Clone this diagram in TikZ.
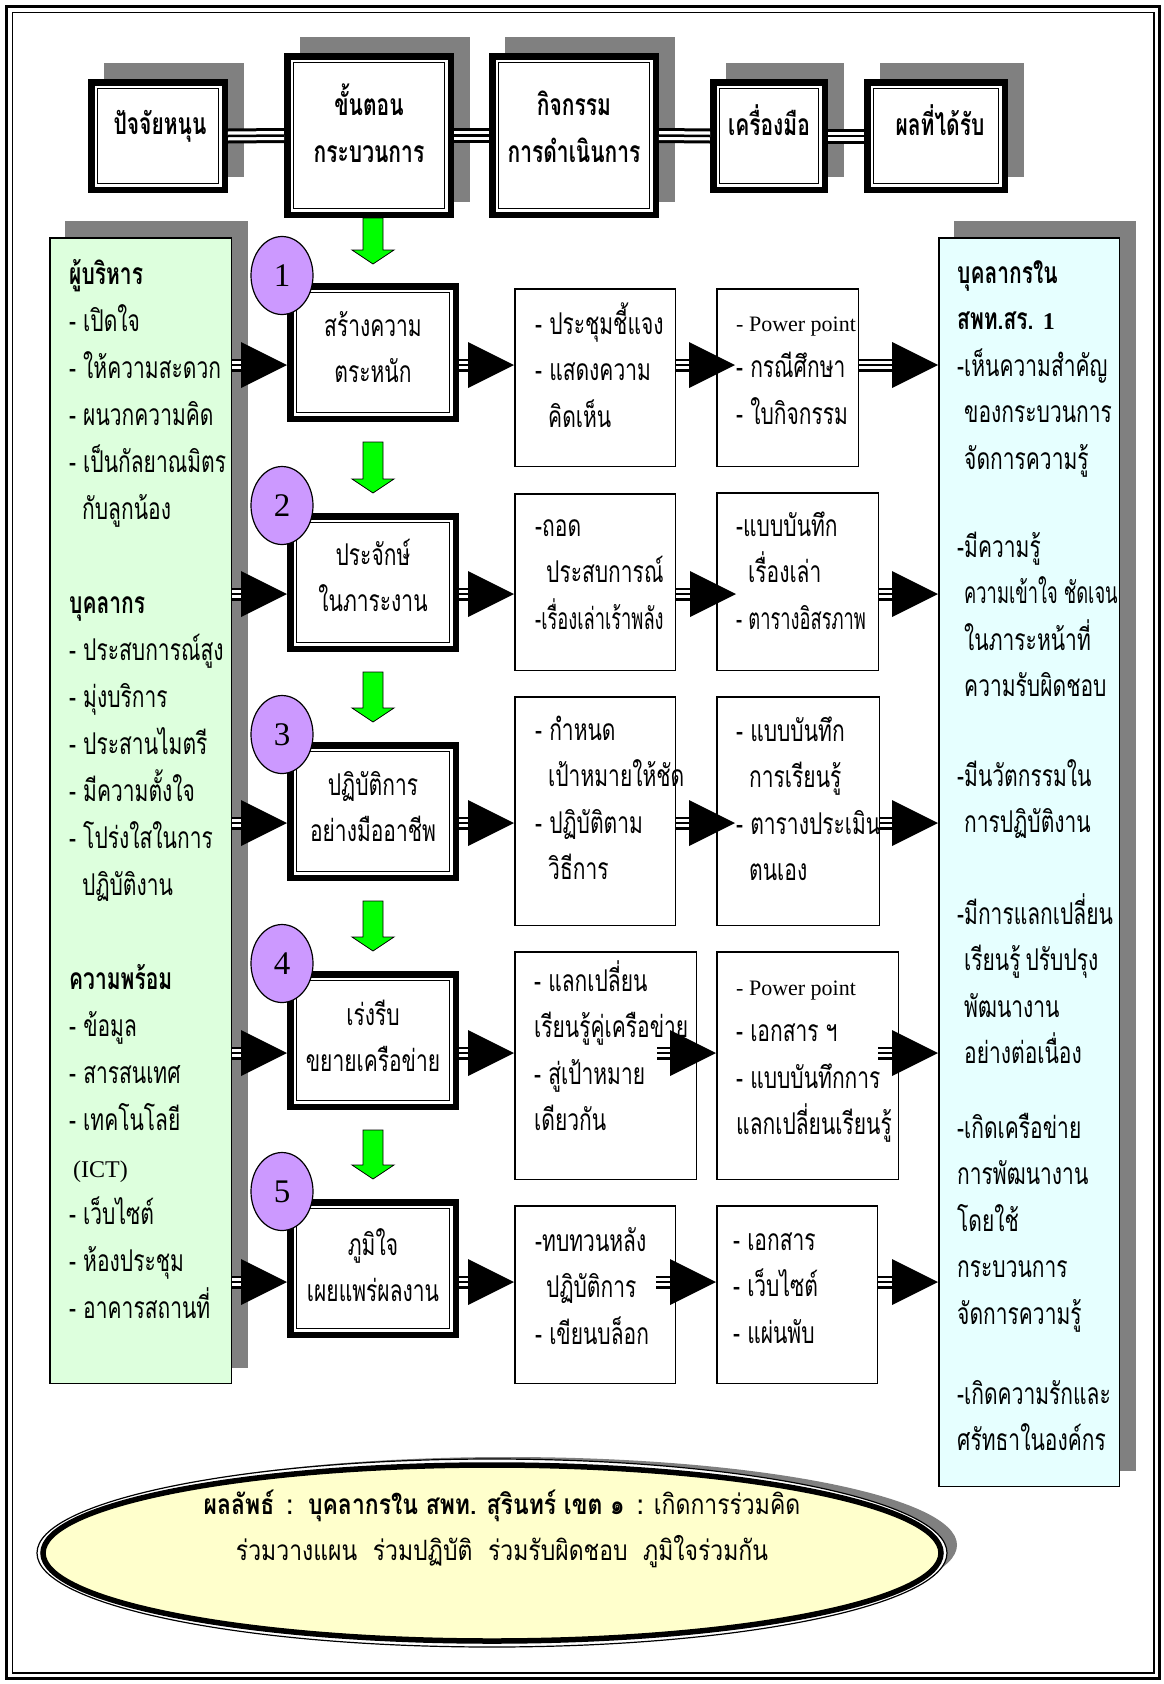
\documentclass[tikz,border=0pt]{standalone}
\usepackage{fontspec}
\setmainfont{Liberation Serif}
\newfontfamily\thai[Script=Thai,FakeStretch=0.70]{Loma}
\newfontfamily\thainarrow[Script=Thai,FakeStretch=0.61]{Loma}
\newfontfamily\thaiwide[Script=Thai,FakeStretch=0.82]{Loma}
\newfontfamily\lser{Liberation Serif}
\usetikzlibrary{calc,backgrounds,shapes.geometric}

\definecolor{shadowgrey}{HTML}{808080}
\definecolor{leafgreen}{HTML}{DDFFDD}
\definecolor{icecyan}{HTML}{E6FFFF}
\definecolor{lilac}{HTML}{CC99FF}
\definecolor{lime}{HTML}{00FF00}
\definecolor{cream}{HTML}{FFFFCC}

\newcommand\thsize{\fontsize{30}{46.5}\selectfont}
\newcommand\latsize{\fontsize{22}{46.5}\selectfont}
\newcommand\firstrow{\rule{0pt}{36pt}}
\newcommand\lat[1]{{\lser\latsize #1}}

% block arrow: triple-line shaft and a solid triangular head
\newcommand\flowto[4]{%
  \path (#1) ++(#3,0) coordinate (fs) (#2) ++(#4,0) coordinate (ft);
  \draw[shaft] (fs) -- ([xshift=-45pt]ft);
  \fill (ft) -- ([shift={(-46,-23)}]ft) -- ([shift={(-46,23)}]ft) -- cycle;}

% green downward block arrow between two points on one vertical
\newcommand\greendrop[2]{%
  \filldraw[fill=lime, draw=black, line width=0.8pt]
    let \p1=(#1), \p2=(#2) in
    (\x1-10pt,\y1) -- (\x1+10pt,\y1) -- (\x1+10pt,\y2+14pt) -- (\x1+21pt,\y2+14pt)
    -- (\x1,\y2) -- (\x1-21pt,\y2+14pt) -- (\x1-10pt,\y2+14pt) -- cycle;}

\tikzset{
  heavy/.style 2 args={draw, line width=6.5pt, fill=white, anchor=north west,
    minimum width={(#1-6.5)*1pt}, minimum height={(#2-6.5)*1pt}},
  thinbox/.style 2 args={draw, line width=1.5pt, fill=white, anchor=north west,
    minimum width={(#1-1.5)*1pt}, minimum height={(#2-1.5)*1pt}},
  shaft/.style={line width=13pt, postaction={draw, white, line width=7.5pt},
    postaction={draw, black, line width=2.5pt}},
  rail/.style={line width=15pt, postaction={draw, white, line width=9pt},
    postaction={draw, black, line width=2.5pt}},
  txt/.style={font=\thai\thsize, align=left, anchor=north west},
  ctxt/.style={font=\thai\thsize, align=center, anchor=north},
  hd/.style={font=\thai\bfseries\fontsize{30}{47}\selectfont, align=center},
  disc/.style={ellipse, draw, line width=1.2pt, fill=lilac, minimum width=62pt,
    minimum height=78pt, font=\lser\fontsize{33}{33}\selectfont},
}

\begin{document}
\begin{tikzpicture}[x=1pt, y=-1pt, every node/.style={inner sep=0pt}]
\useasboundingbox (0,0) rectangle (1164,1684);

% page frame
\draw[line width=3pt] (6.5,6.5) rectangle (1159.5,1678.5);
\draw[line width=1.5pt] (12.5,12.5) rectangle (1154,1673);

% header row
\node[heavy={140}{114}] (A) at (88,79) {};
\node[heavy={170}{165}] (B) at (284,53) {};
\node[heavy={170}{165}] (C) at (489,53) {};
\node[heavy={118}{114}] (D) at (710,79) {};
\node[heavy={144}{114}] (E) at (864,79) {};

\draw[rail] (A.east) -- (B.west);
\draw[rail] (B.east) -- (C.west);
\draw[rail] (C.east) -- (D.west);
\draw[rail] (D.east) -- (E.west);

\node[hd, anchor=base] (At) at (160,134) {ปัจจัยหนุน};
\node[hd, anchor=north] (Bt) at (369,79) {\firstrow ขั้นตอน\\กระบวนการ};
\node[hd, anchor=north] (Ct) at (574,79) {\firstrow กิจกรรม\\การดำเนินการ};
\node[hd, anchor=base] (Dt) at (769,135) {เครื่องมือ};
\node[hd, anchor=base] (Et) at (940,135) {ผลที่ได้รับ};

% side panels
\node[thinbox={183}{1147}, fill=leafgreen] (lp) at (49,237) {};
\node[thinbox={182}{1250}, fill=icecyan] (rp) at (938,237) {};

\begin{scope}[on background layer]
  \foreach \n in {A,B,C,D,E,lp,rp}
    \fill[shadowgrey] ([shift={(16,-16)}]\n.south west) rectangle ([shift={(16,-16)}]\n.north east);
\end{scope}

\node[txt, font=\thai\fontsize{30}{47}\selectfont] (lpt) at (69,248) {\firstrow\textbf{ผู้บริหาร}\\
- เปิดใจ\\
- ให้ความสะดวก\\
- ผนวกความคิด\\
- เป็นกัลยาณมิตร\\
\hspace*{13pt}กับลูกน้อง\\[47pt]
\textbf{บุคลากร}\\
- ประสบการณ์สูง\\
- มุ่งบริการ\\
- ประสานไมตรี\\
- มีความตั้งใจ\\
- โปร่งใสในการ\\
\hspace*{13pt}ปฏิบัติงาน\\[47pt]
\textbf{ความพร้อม}\\
- ข้อมูล\\
- สารสนเทศ\\
- เทคโนโลยี\\
\hspace*{4pt}{\lser\fontsize{24}{47}\selectfont (ICT)}\\
- เว็บไซต์\\
- ห้องประชุม\\
- อาคารสถานที่};

\node[txt] (rpt) at (957,247) {\firstrow\textbf{บุคลากรใน}\\
\textbf{สพท.สร.} {\lser\bfseries\fontsize{24}{46.5}\selectfont 1}\\
-เห็นความสำคัญ\\
\hspace*{7pt}ของกระบวนการ\\
\hspace*{7pt}จัดการความรู้\\[41.5pt]
-มีความรู้\\
\hspace*{7pt}{\thainarrow ความเข้าใจ ชัดเจน}\\
\hspace*{7pt}ในภาระหน้าที่\\
\hspace*{7pt}ความรับผิดชอบ\\[43.2pt]
-มีนวัตกรรมใน\\
\hspace*{7pt}การปฏิบัติงาน\\[44.6pt]
-มีการแลกเปลี่ยน\\
\hspace*{7pt}เรียนรู้\hspace{5pt}ปรับปรุง\\
\hspace*{7pt}พัฒนางาน\\
\hspace*{7pt}อย่างต่อเนื่อง\\[28.2pt]
-เกิดเครือข่าย\\
การพัฒนางาน\\
โดยใช้\\
กระบวนการ\\
จัดการความรู้\\[33.5pt]
-เกิดความรักและ\\
ศรัทธาในองค์กร};

% process steps
\node[heavy={172}{139}] (s1) at (287,283) {};
\node[heavy={172}{139}] (s2) at (287,513) {};
\node[heavy={172}{139}] (s3) at (287,742) {};
\node[heavy={172}{139}] (s4) at (287,971) {};
\node[heavy={172}{139}] (s5) at (287,1199) {};

\foreach \n in {A,B,C,D,E,s1,s2,s3,s4,s5}
  \draw[line width=1.5pt] ([shift={(9.5,9.5)}]\n.north west) rectangle ([shift={(-9.5,-9.5)}]\n.south east);

\node[ctxt] (s1t) at (373,300) {\firstrow สร้างความ\\ตระหนัก};
\node[ctxt] (s2t) at (373,529) {\firstrow ประจักษ์\\ในภาระงาน};
\node[ctxt] (s3t) at (373,759) {\firstrow ปฏิบัติการ\\อย่างมืออาชีพ};
\node[ctxt] (s4t) at (373,989) {\firstrow เร่งรีบ\\ขยายเครือข่าย};
\node[ctxt] (s5t) at (373,1219) {\firstrow ภูมิใจ\\เผยแพร่ผลงาน};

% activities
\node[thinbox={162}{179}] (a1) at (514,288) {};
\node[thinbox={162}{178}] (a2) at (514,493) {};
\node[thinbox={162}{230}] (a3) at (514,696) {};
\node[thinbox={183}{229}] (a4) at (514,951) {};
\node[thinbox={162}{179}] (a5) at (514,1205) {};

% tools
\node[thinbox={143}{179}] (t1) at (716,288) {};
\node[thinbox={163}{179}] (t2) at (716,492) {};
\node[thinbox={164}{230}] (t3) at (716,696) {};
\node[thinbox={183}{229}] (t4) at (716,951) {};
\node[thinbox={162}{179}] (t5) at (716,1205) {};

\node[txt] (a1t) at (535,298) {\firstrow - ประชุมชี้แจง\\- แสดงความ\\\hspace*{13pt}คิดเห็น};
\node[txt] (a2t) at (535,500) {\firstrow -ถอด\\\hspace*{11pt}ประสบการณ์\\{\thainarrow -เรื่องเล่าเร้าพลัง}};
\node[txt] (a3t) at (535,704) {\firstrow - กำหนด\\\hspace*{13pt}เป้าหมายให้ชัด\\- ปฏิบัติตาม\\\hspace*{13pt}วิธีการ};
\node[txt] (a4t) at (534,955) {\firstrow - แลกเปลี่ยน\\เรียนรู้คู่เครือข่าย\\- สู่เป้าหมาย\\เดียวกัน};
\node[txt] (a5t) at (535,1215) {\firstrow -ทบทวนหลัง\\\hspace*{11pt}ปฏิบัติการ\\- เขียนบล็อก};

\node[txt] (t1t) at (736,295) {\firstrow\lat{- Power point}\\- กรณีศึกษา\\- ใบกิจกรรม};
\node[txt] (t2t) at (736,500) {\firstrow -แบบบันทึก\\\hspace*{12pt}เรื่องเล่า\\{\thainarrow - ตารางอิสรภาพ}};
\node[txt] (t3t) at (736,705) {\firstrow - แบบบันทึก\\\hspace*{13pt}การเรียนรู้\\- ตารางประเมิน\\\hspace*{13pt}ตนเอง};
\node[txt] (t4t) at (736,959) {\firstrow\lat{- Power point}\\- เอกสาร ฯ\\- แบบบันทึกการ\\แลกเปลี่ยนเรียนรู้};
\node[txt] (t5t) at (733,1214) {\firstrow - เอกสาร\\- เว็บไซต์\\- แผ่นพับ};

% flow arrows, row by row
\foreach \k/\y in {1/365,2/594,3/823,4/1053,5/1282}
  \coordinate (r\k) at (0,\y);

\foreach \k in {1,...,5} {
  \flowto{lp.east |- r\k}{s\k.west |- r\k}{0}{0}
  \flowto{s\k.east |- r\k}{a\k.west |- r\k}{0}{0}
}
\flowto{a1.east |- r1}{t1.west |- r1}{0}{19}
\flowto{a2.east |- r2}{t2.west |- r2}{0}{20}
\flowto{a3.east |- r3}{t3.west |- r3}{0}{19}
\flowto{a4.east |- r4}{t4.west |- r4}{-40}{0}
\flowto{a5.east |- r5}{t5.west |- r5}{-20}{0}
\flowto{t1.east |- r1}{rp.west |- r1}{0}{0}
\flowto{t2.east |- r2}{rp.west |- r2}{0}{0}
\flowto{t3.east |- r3}{rp.west |- r3}{0}{0}
\flowto{t4.east |- r4}{rp.west |- r4}{-21}{0}
\flowto{t5.east |- r5}{rp.west |- r5}{0}{0}

% step numbers
\foreach \k in {1,...,5}
  \node[disc] (c\k) at ([shift={(-5,-7.5)}]s\k.north west) {\k};

% downward links between the steps
\greendrop{s1.north |- B.south}{[yshift=19pt]s1.north}
\greendrop{[yshift=-20pt]s1.south}{[yshift=20pt]s2.north}
\greendrop{[yshift=-20pt]s2.south}{[yshift=20pt]s3.north}
\greendrop{[yshift=-20pt]s3.south}{[yshift=20pt]s4.north}
\greendrop{[yshift=-20pt]s4.south}{[yshift=20pt]s5.north}

% outcome
\fill[shadowgrey] (508,1545) ellipse [x radius=449pt, y radius=88pt];
\filldraw[fill=white, draw=black, line width=1.2pt] (492,1553) ellipse [x radius=455pt, y radius=94pt];
\node[ellipse, draw, line width=5.5pt, fill=cream, minimum width=898pt, minimum height=176pt] (res) at (492,1553) {};
\node[font=\thaiwide\fontsize{28}{46}\selectfont, align=center, anchor=north] (rest) at (502,1478)
  {\firstrow{\bfseries ผลลัพธ์ \,:\, บุคลากรใน สพท. สุรินทร์ เขต ๑ \,:} เกิดการร่วมคิด\\
   ร่วมวางแผน\ \ ร่วมปฏิบัติ\ \ ร่วมรับผิดชอบ\ \ ภูมิใจร่วมกัน};

\end{tikzpicture}
\end{document}
